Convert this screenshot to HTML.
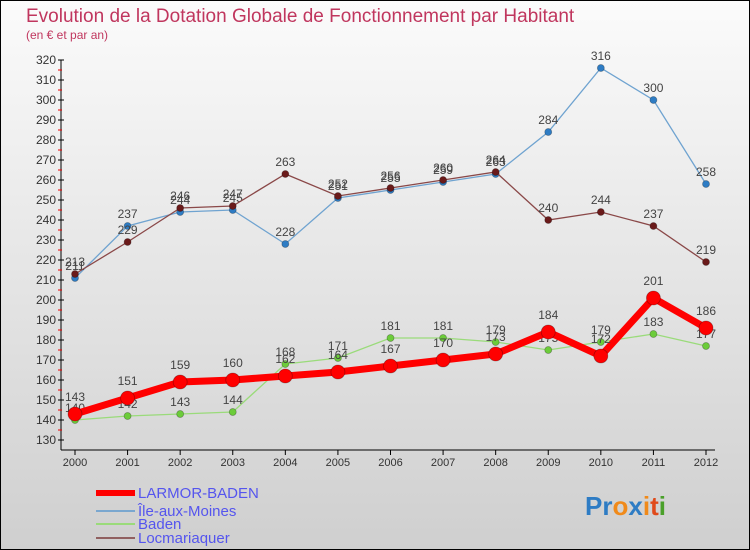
<!DOCTYPE html>
<html><head><meta charset="utf-8"><style>
body{margin:0}
#wrap{width:750px;height:550px;position:relative;box-sizing:border-box;border:1px solid #000;background:linear-gradient(#fbfbfb,#cfcfcf);font-family:"Liberation Sans",sans-serif;overflow:hidden}
</style></head><body>
<div id="wrap">
<svg id="c" width="750" height="550" style="position:absolute;left:-1px;top:-1px">
<text x="26" y="22" font-size="19" fill="#c0365e">Evolution de la Dotation Globale de Fonctionnement par Habitant</text>
<text x="26" y="39" font-size="12" fill="#c0365e">(en € et par an)</text>
</svg>
</div>
<script>
const years=[2000,2001,2002,2003,2004,2005,2006,2007,2008,2009,2010,2011,2012];
const larmor=[143,151,159,160,162,164,167,170,173,184,172,201,186];
const ile=[211,237,244,245,228,251,255,259,263,284,316,300,258];
const baden=[140,142,143,144,168,171,181,181,179,175,179,183,177];
const locma=[213,229,246,247,263,252,256,260,264,240,244,237,219];
const yTicks=[130,140,150,160,170,180,190,200,210,220,230,240,250,260,270,280,290,300,310,320];
const NS="http://www.w3.org/2000/svg";
const svg=document.getElementById('c');
const X=i=>75+i*(706-75)/12;
const Y=v=>440-(v-130)*2;
function mk(t,a,p){const e=document.createElementNS(NS,t);for(const k in a)e.setAttribute(k,a[k]);(p||svg).appendChild(e);return e;}
const ax=mk('g',{});


mk('line',{x1:61,y1:Y(320),x2:61,y2:450,stroke:'#000','stroke-width':1},ax);
mk('line',{x1:61,y1:450,x2:715,y2:450,stroke:'#000','stroke-width':1},ax);
yTicks.forEach(v=>{
 mk('line',{x1:58,y1:Y(v),x2:64,y2:Y(v),stroke:'#000'},ax);
 if(v<320)mk('line',{x1:58,y1:Y(v+5),x2:62,y2:Y(v+5),stroke:'#e00'},ax);
 const t=mk('text',{x:56,y:Y(v)+4,'font-size':12,'text-anchor':'end',fill:'#333'},ax);t.textContent=v;
 
 
});
years.forEach((yr,i)=>{
 mk('line',{x1:X(i),y1:450,x2:X(i),y2:455,stroke:'#000'},ax);
 const t=mk('text',{x:X(i),y:466,'font-size':11,'text-anchor':'middle',fill:'#333'},ax);t.textContent=yr;
 
 
});
function series(d,name,color,w,r,fill,labelOff){
 const g=mk('g',{});
 
 
 mk('polyline',{points:d.map((v,i)=>X(i)+','+Y(v)).join(' '),fill:'none',stroke:color,'stroke-width':w},g);
 d.forEach((v,i)=>{
  const c=mk('circle',{cx:X(i),cy:Y(v),r:r,fill:fill,stroke:'rgba(0,0,0,0.3)','stroke-width':0.8},g);
  
  
  const t=mk('text',{x:X(i),y:Y(v)-labelOff,'font-size':12,'text-anchor':'middle',fill:'#444'},g);t.textContent=v;
  
  
 });
}
series(ile,'ile-aux-moines-series','#6fa3d0',1.3,3.5,'#2e7cc4',8);
series(locma,'locmariaquer-series','#8a4848',1.3,3.5,'#6a1a1a',8);
series(baden,'baden-series','#9adb7a',1.3,3.5,'#6ccc3a',8);
series(larmor,'larmor-baden-series','#f00',7,7,'#f00',13);
const lg=mk('g',{});


[['LARMOR-BADEN','#f00',6,493],['Île-aux-Moines','#7aa7cf',2,511],['Baden','#9adb7a',2,524],['Locmariaquer','#906060',2,538]].forEach(([n,c,w,y])=>{
 mk('line',{x1:96,y1:y,x2:135,y2:y,stroke:c,'stroke-width':w},lg);
 const t=mk('text',{x:138,y:y+5,'font-size':15,fill:'#5555ee'},lg);t.textContent=n;
 
 
});
const lo=mk('text',{x:585,y:515,'font-size':26,'font-weight':'bold'});


[['Pr','#2e7cc4'],['o','#f08a1a'],['x','#2e7cc4'],['i','#f08a1a'],['t','#e04a1a'],['i','#4aa02a']].forEach(([s,c])=>{const ts=mk('tspan',{fill:c},lo);ts.textContent=s;});
</script>
</body></html>
